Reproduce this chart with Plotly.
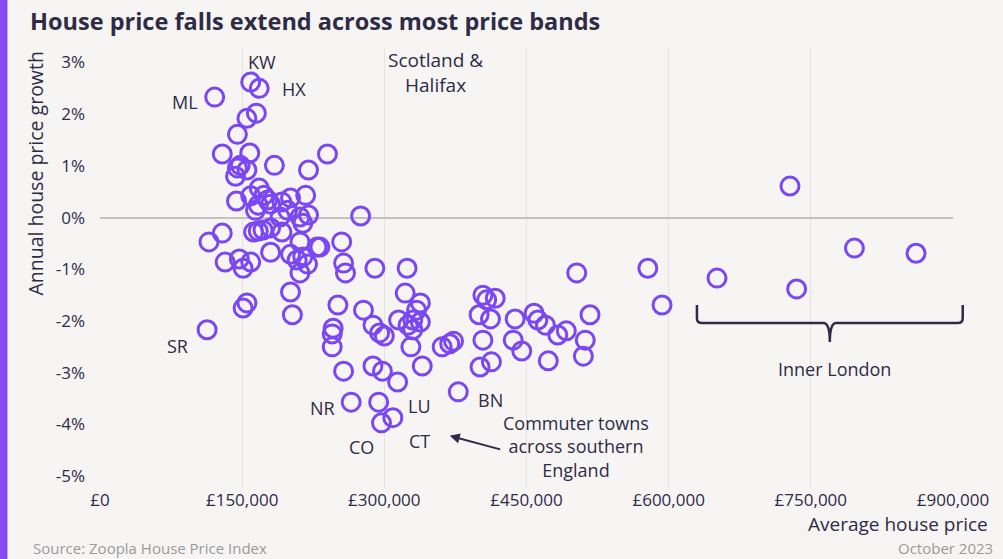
import plotly.graph_objects as go

# Average house price (GBP) and annual house price growth (%) per area
prices = [
    159000, 168000, 121000, 155000, 165000, 145000, 129000, 158000, 148000, 155000,
    143000, 184000, 240000, 220000, 144000, 159000, 168000, 173000, 167000, 177000,
    192000, 201000, 217000, 198000, 211000, 220000, 214000, 190000, 275000, 192000,
    180000, 167000, 162000, 129000, 115000, 211000, 229000, 255000, 180000, 132000,
    147000, 151000, 159000, 201000, 208000, 214000, 219000, 232000, 211000, 257000,
    259000, 201000, 203000, 151000, 155000, 113000, 251000, 290000, 324000, 278000,
    322000, 338000, 334000, 330000, 338000, 315000, 325000, 330000, 246000, 245000,
    245000, 288000, 295000, 300000, 328000, 257000, 288000, 298000, 314000, 340000,
    265000, 294000, 297000, 309000, 361000, 369000, 373000, 378000, 404000, 408000,
    417000, 400000, 412000, 404000, 401000, 413000, 438000, 436000, 445000, 458000,
    462000, 470000, 483000, 492000, 473000, 517000, 512000, 510000, 503000, 578000,
    593000, 651000, 735000, 728000, 796000, 861000, 145000, 172000, 180000, 164000,
]
growth = [
    2.62, 2.50, 2.33, 1.92, 2.02, 1.61, 1.23, 1.25, 1.01, 0.92,
    0.80, 1.01, 1.23, 0.92, 0.32, 0.42, 0.57, 0.43, 0.24, 0.34,
    0.30, 0.38, 0.43, 0.14, 0.01, 0.05, -0.11, 0.01, 0.03, -0.28,
    -0.20, -0.26, -0.28, -0.30, -0.47, -0.47, -0.57, -0.47, -0.67, -0.86,
    -0.80, -0.98, -0.86, -0.71, -0.82, -0.76, -0.90, -0.57, -1.07, -0.88,
    -1.07, -1.44, -1.88, -1.75, -1.65, -2.17, -1.69, -0.98, -0.98, -1.79,
    -1.46, -1.65, -1.79, -1.98, -2.02, -1.98, -2.08, -2.17, -2.14, -2.25,
    -2.50, -2.08, -2.23, -2.29, -2.50, -2.97, -2.87, -2.97, -3.18, -2.87,
    -3.57, -3.57, -3.97, -3.87, -2.50, -2.44, -2.39, -3.37, -1.50, -1.59,
    -1.56, -1.88, -1.96, -2.37, -2.89, -2.79, -1.96, -2.37, -2.58, -1.85,
    -1.98, -2.08, -2.27, -2.19, -2.77, -1.88, -2.37, -2.68, -1.07, -0.98,
    -1.69, -1.17, -1.38, 0.61, -0.59, -0.69, 0.96, -0.24, 0.26, 0.14,
]

x_tick_vals = [0, 150000, 300000, 450000, 600000, 750000, 900000]
x_tick_text = ["£0", "£150,000", "£300,000", "£450,000", "£600,000", "£750,000", "£900,000"]
y_tick_vals = [-5, -4, -3, -2, -1, 0, 1, 2, 3]
y_tick_text = ["-5%", "-4%", "-3%", "-2%", "-1%", "0%", "1%", "2%", "3%"]

# Point labels: (text, price, growth)
label_text = ["KW", "HX", "ML", "SR", "NR", "LU", "BN", "CO", "CT"]
label_x = [171000, 205000, 90000, 82000, 234500, 337000, 411600, 275600, 337000]
label_y = [3.00, 2.48, 2.23, -2.48, -3.68, -3.64, -3.53, -4.43, -4.32]

PURPLE = "#7b47f5"
INK = "#2f2b47"
BG = "#f6f5f3"
FONT = "Open Sans"
FS = 17
AFS = 18

fig = go.Figure()
fig.add_trace(go.Scatter(
    x=prices, y=growth, mode="markers",
    marker=dict(symbol="circle-open", size=18, color=PURPLE, line=dict(width=3, color=PURPLE)),
    hoverinfo="x+y", showlegend=False,
))

annotations = []
for t, xv, yv in zip(label_text, label_x, label_y):
    annotations.append(dict(x=xv, y=yv, xref="x", yref="y", text=t, showarrow=False,
                            xanchor="center", yanchor="middle",
                            font=dict(size=AFS, color=INK, family=FONT)))

annotations += [
    dict(x=353600, y=2.81, xref="x", yref="y", text="Scotland &<br>Halifax", showarrow=False,
         xanchor="center", yanchor="middle",
         font=dict(size=19, color=INK, family=FONT), align="center"),
    dict(x=502000, y=-4.42, xref="x", yref="y", text="Commuter towns<br>across southern<br>England",
         xanchor="center", yanchor="middle",
         showarrow=False, font=dict(size=AFS, color=INK, family=FONT), align="center"),
    dict(x=369000, y=-4.22, xref="x", yref="y", ax=52, ay=14, axref="pixel", ayref="pixel",
         text="", showarrow=True, arrowhead=2, arrowsize=1, arrowwidth=2, arrowcolor=INK),
    dict(x=775000, y=-2.93, xref="x", yref="y", text="Inner London", showarrow=False,
         xanchor="center", yanchor="middle",
         font=dict(size=AFS, color=INK, family=FONT)),
    dict(x=-0.0755, y=0.9955, xref="paper", yref="paper", text="Annual house price growth",
         xanchor="center", yanchor="top",
         textangle=-90, showarrow=False, font=dict(size=19.5, color=INK, family=FONT)),
    dict(x=1.043, y=-0.0818, xref="paper", yref="paper", text="Average house price",
         xanchor="right", yanchor="middle", showarrow=False, font=dict(size=19, color=INK, family=FONT)),
    dict(x=-0.0814, y=-0.1364, xref="paper", yref="paper", text="Source: Zoopla House Price Index",
         xanchor="left", yanchor="middle", showarrow=False, font=dict(size=15, color="#9a9a9a", family=FONT)),
    dict(x=1.0488, y=-0.1364, xref="paper", yref="paper", text="October 2023",
         xanchor="right", yanchor="middle", showarrow=False, font=dict(size=15, color="#9a9a9a", family=FONT)),
]

shapes = [
    # left accent bar
    dict(type="rect", xref="paper", yref="paper", x0=-0.1175, x1=-0.1085, y0=-0.17, y1=1.12,
         fillcolor="#8a4af3", line=dict(width=0), layer="above"),
    # Inner London bracket
    dict(type="path", xref="paper", yref="paper",
         path=("M 0.6998 0.4159 L 0.6998 0.386 Q 0.6998 0.375 0.7057 0.375 L 0.848 0.375 "
               "Q 0.8556 0.375 0.8556 0.3318 Q 0.8556 0.375 0.8632 0.375 L 1.0055 0.375 "
               "Q 1.0114 0.375 1.0114 0.386 L 1.0114 0.4159"),
         line=dict(color=INK, width=2.5)),
]

fig.update_layout(
    width=1003, height=559,
    margin=dict(l=99.5, r=49.7, t=48, b=71),
    paper_bgcolor=BG, plot_bgcolor=BG,
    font=dict(family=FONT, color=INK, size=FS),
    title=dict(text="<b>House price falls extend across most price bands</b>",
               x=30 / 1003, xref="container", xanchor="left",
               y=1 - 22 / 559, yref="container", yanchor="middle",
               font=dict(size=23.5, color=INK, family=FONT)),
    xaxis=dict(range=[0, 900000], tickvals=x_tick_vals, ticktext=x_tick_text,
               showgrid=True, gridcolor="#e6e4e1", gridwidth=1, zeroline=False,
               showline=False, ticks="", tickfont=dict(size=FS, color=INK)),
    yaxis=dict(range=[-5.23, 3.28], tickvals=y_tick_vals, ticktext=y_tick_text,
               showgrid=False, zeroline=True, zerolinecolor="#c4c2bf", zerolinewidth=2,
               showline=False, ticks="", ticklabelstandoff=14, tickfont=dict(size=FS, color=INK)),
    annotations=annotations,
    shapes=shapes,
)

fig.write_html("out.html", config={"displayModeBar": False},
               post_script="document.body.style.margin='0px';document.body.style.background='#f6f5f3';")
